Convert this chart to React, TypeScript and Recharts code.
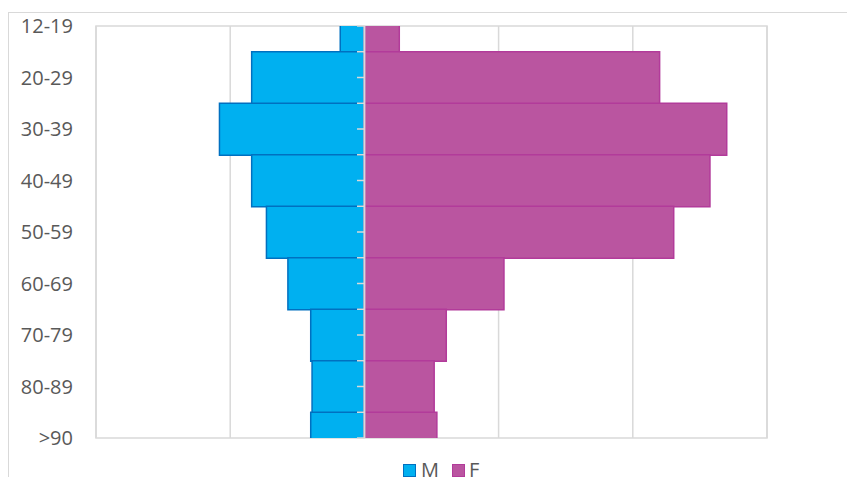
import React from 'react';
import { BarChart, Bar, XAxis, YAxis, CartesianGrid, ReferenceLine, ReferenceArea, Legend } from 'recharts';

const categories = ['12-19', '20-29', '30-39', '40-49', '50-59', '60-69', '70-79', '80-89', '>90'];
const male = [1.8, 8.4, 10.8, 8.4, 7.3, 5.7, 4.0, 3.9, 4.0];
const female = [2.6, 22.0, 27.0, 25.75, 23.05, 10.4, 6.1, 5.2, 5.4];
const xTicks = [-20, -10, 0, 10, 20, 30];

const data = categories.map((c, i) => ({ idx: i, label: c, m: -male[i], f: female[i] }));
const yTicks = categories.map((_, i) => i);
const axisMarks: number[] = [];
for (let i = 0; i < categories.length; i++) {
  axisMarks.push(i);
  if (i < categories.length - 1) axisMarks.push(i + 0.5);
}

const GRID = '#D9D9D9';
const TEXT = '#595959';
const FONT = '"Open Sans", sans-serif';
const M_FILL = '#00B0F0';
const M_STROKE = '#0070C0';
const F_FILL = '#BA55A0';
const F_STROKE = '#B23B9A';

const renderLegend = () => (
  <div style={{ display: 'flex', alignItems: 'center', fontFamily: FONT, fontSize: 20, color: TEXT, height: 24 }}>
    <span style={{ display: 'inline-block', width: 11, height: 11, background: M_FILL, border: `1.5px solid ${M_STROKE}` }} />
    <span style={{ marginLeft: 5, lineHeight: '24px' }}>M</span>
    <span style={{ display: 'inline-block', width: 11, height: 11, background: F_FILL, border: `1.5px solid ${F_STROKE}`, marginLeft: 13 }} />
    <span style={{ marginLeft: 4, lineHeight: '24px' }}>F</span>
  </div>
);

export default function App() {
  return (
    <div style={{ position: 'relative', width: 847, height: 469 }}>
      <div
        style={{
          position: 'absolute',
          top: 4,
          left: 0,
          width: 847,
          height: 465,
          borderTop: `1px solid ${GRID}`,
          borderLeft: `1px solid ${GRID}`,
          boxSizing: 'border-box',
        }}
      />
      <div style={{ position: 'absolute', top: 0, left: 0 }}>
        <BarChart
          layout="vertical"
          width={847}
          height={469}
          data={data}
          margin={{ top: 18, right: 88, left: 0, bottom: 15 }}
          stackOffset="sign"
          barCategoryGap={0}
        >
          <CartesianGrid horizontal={false} vertical={true} stroke={GRID} strokeWidth={1.5} />
          <ReferenceArea x1={-20} x2={30} y1={0} y2={8} fill="none" stroke={GRID} strokeWidth={1.5} />
          <XAxis type="number" domain={[-20, 30]} ticks={xTicks} hide />
          <YAxis
            type="number"
            dataKey="idx"
            domain={[0, 8]}
            ticks={yTicks}
            interval={0}
            allowDataOverflow
            width={88}
            axisLine={false}
            tickLine={false}
            tickSize={0}
            tickMargin={23}
            tick={{ fill: TEXT, fontSize: 20, fontFamily: FONT }}
            tickFormatter={(v: number) => categories[v]}
          />
          <Bar dataKey="m" name="M" stackId="s" fill={M_FILL} stroke={M_STROKE} strokeWidth={1.5} isAnimationActive={false} />
          <Bar dataKey="f" name="F" stackId="s" fill={F_FILL} stroke={F_STROKE} strokeWidth={1.5} isAnimationActive={false} />
          <ReferenceLine x={0} stroke={GRID} strokeWidth={2} />
          {axisMarks.map((v) => (
            <ReferenceLine
              key={v}
              segment={[{ x: -0.55, y: v }, { x: 0, y: v }]}
              stroke={GRID}
              strokeWidth={1.5}
            />
          ))}
          <Legend
            verticalAlign="bottom"
            content={renderLegend}
            wrapperStyle={{ left: 395, bottom: -5, width: 120, height: 24 }}
          />
        </BarChart>
      </div>
    </div>
  );
}
